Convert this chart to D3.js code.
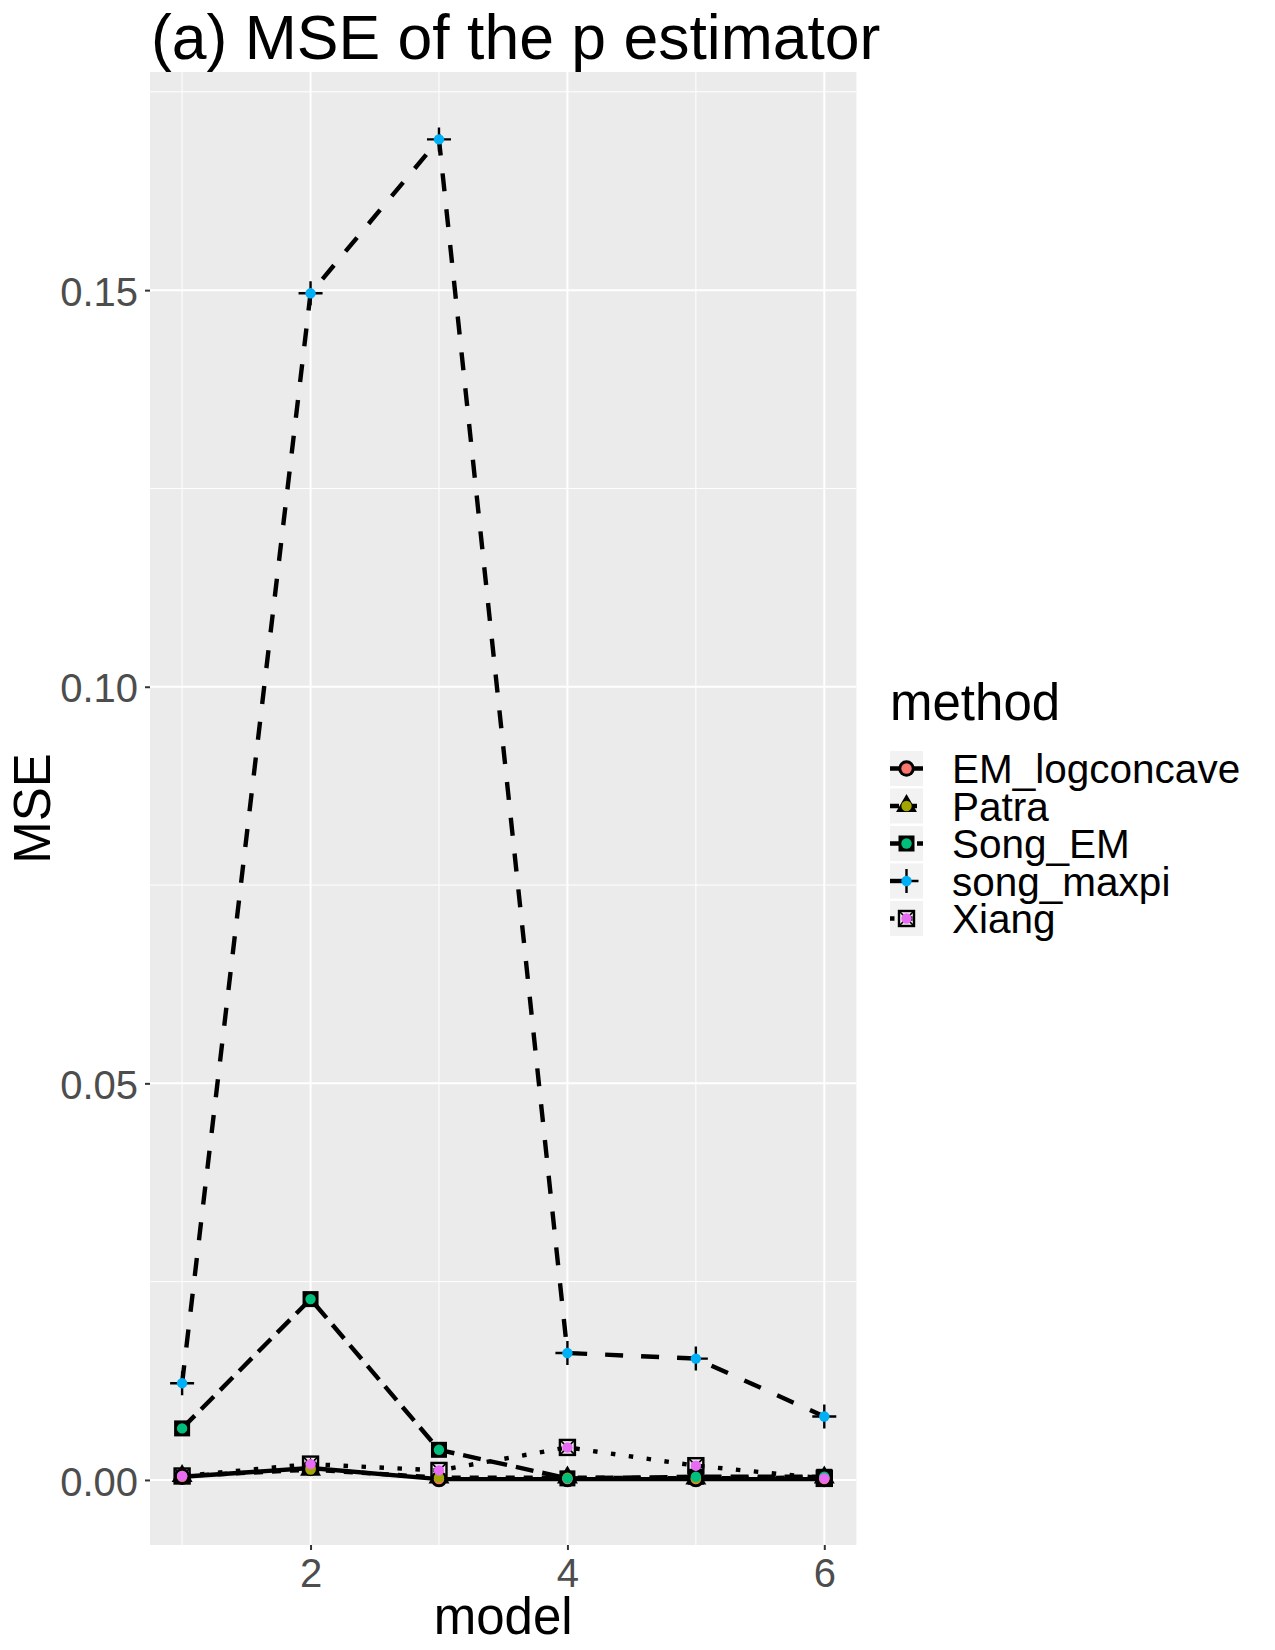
<!DOCTYPE html>
<html>
<head>
<meta charset="utf-8">
<script src="https://cdn.jsdelivr.net/npm/d3@7"></script>
<style>
	body { margin: 0; background: #fff; }
	text { font-family: 'Liberation Sans', Arial, sans-serif; }
</style>
</head>
<body>
<div class="content"></div>
<script>
const w = 1275;
const h = 1650;

// data
const models = [1, 2, 3, 4, 5, 6];
const methods = ['EM_logconcave', 'Patra', 'Song_EM', 'song_maxpi', 'Xiang'];
const emLogconcave = [0.0004, 0.0015, 0.0001, 0.0001, 0.0001, 0.0001];
const patra = [0.0005, 0.0013, 0.0003, 0.0003, 0.0002, 0.0003];
const songEM = [0.0065, 0.0228, 0.0038, 0.0002, 0.0004, 0.0004];
const songMaxpi = [0.0122, 0.1496, 0.1690, 0.0160, 0.0153, 0.0080];
const xiang = [0.0005, 0.0020, 0.0012, 0.0041, 0.0018, 0.0002];
const yTicks = [0, 0.05, 0.10, 0.15];
const yMinor = [0.025, 0.075, 0.125, 0.175];
const xTicks = [2, 4, 6];
const xMinor = [1, 3, 5];

const series = [emLogconcave, patra, songEM, songMaxpi, xiang];
const colors = ['#F8766D', '#A3A500', '#00BF7D', '#00B0F6', '#E76BF3'];
const dashes = [null, '9,9', '18,9', '18,18', '4.5,13.5'];

const content = d3.select('.content');

const svg = content.append('svg')
	.attr('width', w)
	.attr('height', h);

svg.append('rect')
	.attr('width', w)
	.attr('height', h)
	.attr('fill', '#fff');

const x = d3.scaleLinear()
	.domain([0.75, 6.25])
	.range([150, 856.4]);

const y = d3.scaleLinear()
	.domain([-0.0082, 0.1775])
	.range([1545, 72]);

// panel
svg.append('rect')
	.attr('x', x.range()[0])
	.attr('y', y.range()[1])
	.attr('width', x.range()[1] - x.range()[0])
	.attr('height', y.range()[0] - y.range()[1])
	.attr('fill', '#EBEBEB');

const grid = svg.append('g');

grid.selectAll('.ymin')
	.data(yMinor)
	.enter()
	.append('line')
	.attr('x1', x.range()[0])
	.attr('x2', x.range()[1])
	.attr('y1', d => y(d))
	.attr('y2', d => y(d))
	.attr('stroke', '#fff')
	.attr('stroke-width', 1);

grid.selectAll('.xmin')
	.data(xMinor)
	.enter()
	.append('line')
	.attr('x1', d => x(d))
	.attr('x2', d => x(d))
	.attr('y1', y.range()[0])
	.attr('y2', y.range()[1])
	.attr('stroke', '#fff')
	.attr('stroke-width', 1);

grid.selectAll('.ymaj')
	.data(yTicks)
	.enter()
	.append('line')
	.attr('x1', x.range()[0])
	.attr('x2', x.range()[1])
	.attr('y1', d => y(d))
	.attr('y2', d => y(d))
	.attr('stroke', '#fff')
	.attr('stroke-width', 2);

grid.selectAll('.xmaj')
	.data(xTicks)
	.enter()
	.append('line')
	.attr('x1', d => x(d))
	.attr('x2', d => x(d))
	.attr('y1', y.range()[0])
	.attr('y2', y.range()[1])
	.attr('stroke', '#fff')
	.attr('stroke-width', 2);

// axes
const yAxis = svg.append('g')
	.attr('transform', `translate(${x.range()[0]},0)`)
	.call(d3.axisLeft(y).tickValues(yTicks).tickFormat(d3.format('.2f')).tickSize(5).tickPadding(7));

const xAxis = svg.append('g')
	.attr('transform', `translate(0,${y.range()[0]})`)
	.call(d3.axisBottom(x).tickValues(xTicks).tickFormat(d3.format('d')).tickSize(5).tickPadding(8));

[yAxis, xAxis].forEach(a => {
	a.select('.domain').remove();
	a.selectAll('line').attr('stroke', '#333333').attr('stroke-width', 2);
	a.selectAll('text')
		.attr('fill', '#4D4D4D')
		.style('font-family', "'Liberation Sans', Arial, sans-serif")
		.style('font-size', '40px');
});
yAxis.selectAll('text').attr('dy', '0.38em');
xAxis.selectAll('text').attr('dy', '0.72em');

// lines
const line = d3.line()
	.x((d, i) => x(models[i]))
	.y(d => y(d));

svg.append('g')
	.selectAll('path')
	.data(series)
	.enter()
	.append('path')
	.attr('d', d => line(d))
	.attr('fill', 'none')
	.attr('stroke', '#000')
	.attr('stroke-width', 4.4)
	.attr('stroke-dasharray', (d, i) => dashes[i]);

// black shapes then coloured dots
function drawShape(g, k) {
	if (k === 0) {
		g.append('circle').attr('r', 8.2).attr('fill', '#000');
	} else if (k === 1) {
		g.append('path').attr('d', d3.symbol(d3.symbolTriangle).size(190)()).attr('fill', '#000');
	} else if (k === 2) {
		g.append('rect').attr('x', -8).attr('y', -8).attr('width', 16).attr('height', 16).attr('fill', '#000');
	} else if (k === 3) {
		g.append('path').attr('d', 'M-12,0H12M0,-12V12').attr('stroke', '#000').attr('stroke-width', 2.4);
	} else {
		g.append('rect').attr('x', -7.5).attr('y', -7.5).attr('width', 15).attr('height', 15)
			.attr('fill', 'none').attr('stroke', '#000').attr('stroke-width', 2.4);
		g.append('path').attr('d', 'M-7.5,-7.5L7.5,7.5M-7.5,7.5L7.5,-7.5').attr('stroke', '#000').attr('stroke-width', 1.6);
	}
}

const pts = [];
series.forEach((s, k) => s.forEach((v, i) => pts.push({ k: k, m: models[i], v: v })));

svg.append('g')
	.selectAll('g')
	.data(pts)
	.enter()
	.append('g')
	.attr('transform', d => `translate(${x(d.m)},${y(d.v)})`)
	.each(function (d) { drawShape(d3.select(this), d.k); });

svg.append('g')
	.selectAll('circle')
	.data(pts)
	.enter()
	.append('circle')
	.attr('cx', d => x(d.m))
	.attr('cy', d => y(d.v))
	.attr('r', 5.2)
	.attr('fill', d => colors[d.k]);

// titles
svg.append('text')
	.attr('x', 151)
	.attr('y', 59)
	.style('font-size', '62.5px')
	.attr('fill', '#000')
	.text('(a) MSE of the p estimator');

svg.append('text')
	.attr('x', (x.range()[0] + x.range()[1]) / 2)
	.attr('y', 1634)
	.attr('text-anchor', 'middle')
	.style('font-size', '51px')
	.text('model');

svg.append('text')
	.attr('transform', `translate(50,${(y.range()[0] + y.range()[1]) / 2}) rotate(-90)`)
	.attr('text-anchor', 'middle')
	.style('font-size', '51px')
	.text('MSE');

// legend
const legend = svg.append('g');

legend.append('text')
	.attr('x', 890)
	.attr('y', 720)
	.style('font-size', '51px')
	.text('method');

const keys = legend.selectAll('.key')
	.data(methods)
	.enter()
	.append('g')
	.attr('transform', (d, i) => `translate(890,${751 + i * 37.5})`);

keys.append('rect')
	.attr('width', 33)
	.attr('height', 35)
	.attr('fill', '#F2F2F2');

keys.append('line')
	.attr('x1', 0)
	.attr('x2', 33)
	.attr('y1', 17.5)
	.attr('y2', 17.5)
	.attr('stroke', '#000')
	.attr('stroke-width', 4.4)
	.attr('stroke-dasharray', (d, i) => dashes[i]);

keys.append('g')
	.attr('transform', 'translate(16.5,17.5)')
	.each(function (d, i) { drawShape(d3.select(this), i); });

keys.append('circle')
	.attr('cx', 16.5)
	.attr('cy', 17.5)
	.attr('r', 5.2)
	.attr('fill', (d, i) => colors[i]);

keys.append('text')
	.attr('x', 62)
	.attr('y', 17.5)
	.attr('dy', '0.36em')
	.style('font-size', '40.5px')
	.text(d => d);
</script>
</body>
</html>
